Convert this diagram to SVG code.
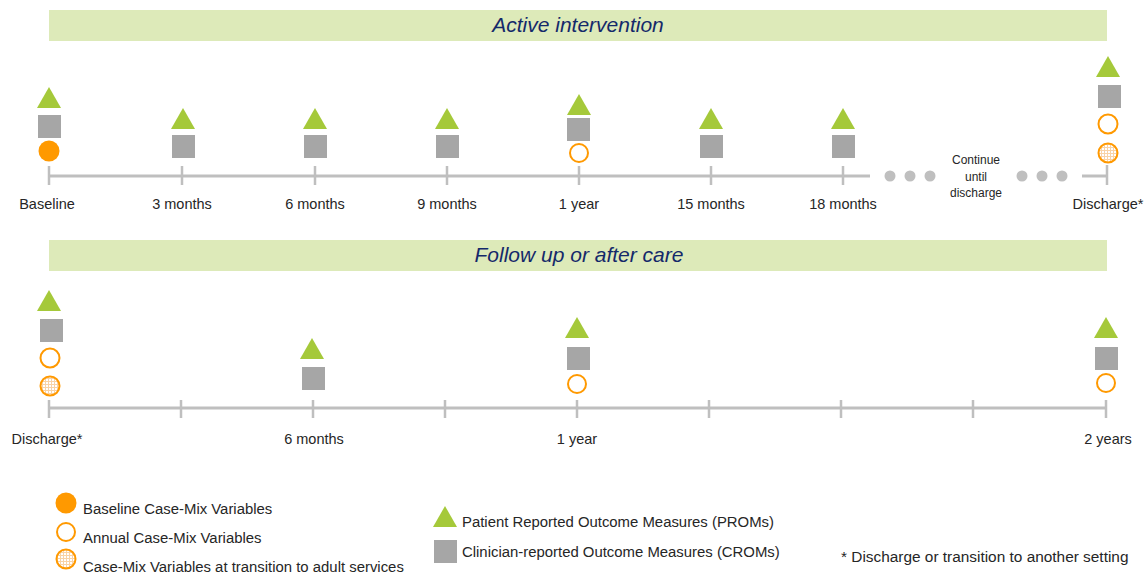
<svg xmlns="http://www.w3.org/2000/svg" width="1148" height="576" viewBox="0 0 1148 576">
<style>
  .bar { fill: #DDEAB9; }
  .title { font-family: "Liberation Sans", Arial, sans-serif; font-style: italic; font-size: 21px; fill: #14296A; text-anchor: middle; }
  .lbl { font-family: "Liberation Sans", Arial, sans-serif; font-size: 14.5px; fill: #262626; text-anchor: middle; }
  .small { font-family: "Liberation Sans", Arial, sans-serif; font-size: 12px; fill: #262626; text-anchor: middle; }
  .leg { font-family: "Liberation Sans", Arial, sans-serif; font-size: 14.9px; fill: #262626; }
  .axis { stroke: #BFBFBF; stroke-width: 3; fill: none; }
  .tick { stroke: #BFBFBF; stroke-width: 2.5; }
  .dot { fill: #BFBFBF; }
  .tri { fill: #A5C93A; }
  .sq { fill: #A6A6A6; }
  .base { fill: #FF9900; }
  .annual { fill: #FFFFFF; stroke: #FF9900; stroke-width: 2; }
  .trans { fill: url(#grid); stroke: #FF9900; stroke-width: 2; }
</style>
<defs>
  <pattern id="grid" width="3" height="3" patternUnits="userSpaceOnUse">
    <rect width="3" height="3" fill="#FFFFFF"/>
    <path d="M0,0.5 H3 M0.5,0 V3" stroke="#F9D3A6" stroke-width="1"/>
  </pattern>
  <path id="tri" d="M-12,21 L0,0 L12,21 Z"/>
  <rect id="sq" x="-11.5" y="0" width="23" height="23"/>
</defs>

<g id="header-active">
  <rect class="bar" x="49" y="10" width="1058" height="31"/>
  <text class="title" x="578" y="32">Active intervention</text>
</g>
<g id="header-follow">
  <rect class="bar" x="49" y="240" width="1058" height="31"/>
  <text class="title" x="579" y="262">Follow up or after care</text>
</g>

<g id="connectors">
  <line class="axis" x1="49" y1="176" x2="870" y2="176"/>
  <line class="axis" x1="1082" y1="176" x2="1107" y2="176"/>
  <g class="tick">
    <line x1="49" y1="166" x2="49" y2="185"/>
    <line x1="182" y1="166" x2="182" y2="185"/>
    <line x1="315" y1="166" x2="315" y2="185"/>
    <line x1="447" y1="166" x2="447" y2="185"/>
    <line x1="579" y1="166" x2="579" y2="185"/>
    <line x1="711" y1="166" x2="711" y2="185"/>
    <line x1="843" y1="166" x2="843" y2="185"/>
    <line x1="1107" y1="165" x2="1107" y2="185"/>
  </g>
  <circle class="dot" cx="890" cy="176" r="5.5"/>
  <circle class="dot" cx="910" cy="176" r="5.5"/>
  <circle class="dot" cx="930" cy="176" r="5.5"/>
  <circle class="dot" cx="1022" cy="176" r="5.5"/>
  <circle class="dot" cx="1042" cy="176" r="5.5"/>
  <circle class="dot" cx="1062" cy="176" r="5.5"/>

  <line class="axis" x1="49" y1="408" x2="1106" y2="408"/>
  <g class="tick">
    <line x1="49" y1="400" x2="49" y2="418"/>
    <line x1="181" y1="400" x2="181" y2="418"/>
    <line x1="313" y1="400" x2="313" y2="418"/>
    <line x1="445" y1="400" x2="445" y2="418"/>
    <line x1="577" y1="400" x2="577" y2="418"/>
    <line x1="709" y1="400" x2="709" y2="418"/>
    <line x1="841" y1="400" x2="841" y2="418"/>
    <line x1="973" y1="400" x2="973" y2="418"/>
    <line x1="1106" y1="400" x2="1106" y2="418"/>
  </g>
</g>

<g id="top-baseline">
  <use href="#tri" class="tri" x="49" y="87"/>
  <use href="#sq" class="sq" x="49.5" y="115"/>
  <circle class="base" cx="49" cy="151" r="10.5"/>
  <text class="lbl" x="47" y="209">Baseline</text>
</g>
<g id="top-3m">
  <use href="#tri" class="tri" x="183" y="108"/>
  <use href="#sq" class="sq" x="183.5" y="135"/>
  <text class="lbl" x="182" y="209">3 months</text>
</g>
<g id="top-6m">
  <use href="#tri" class="tri" x="315" y="108"/>
  <use href="#sq" class="sq" x="315.5" y="135"/>
  <text class="lbl" x="315" y="209">6 months</text>
</g>
<g id="top-9m">
  <use href="#tri" class="tri" x="447" y="108"/>
  <use href="#sq" class="sq" x="447.5" y="135"/>
  <text class="lbl" x="447" y="209">9 months</text>
</g>
<g id="top-1y">
  <use href="#tri" class="tri" x="579" y="94"/>
  <use href="#sq" class="sq" x="578.5" y="118"/>
  <circle class="annual" cx="579" cy="153" r="9"/>
  <text class="lbl" x="579" y="209">1 year</text>
</g>
<g id="top-15m">
  <use href="#tri" class="tri" x="711" y="108"/>
  <use href="#sq" class="sq" x="711.5" y="135"/>
  <text class="lbl" x="711" y="209">15 months</text>
</g>
<g id="top-18m">
  <use href="#tri" class="tri" x="843" y="108"/>
  <use href="#sq" class="sq" x="843.5" y="135"/>
  <text class="lbl" x="843" y="209">18 months</text>
</g>
<g id="top-continue">
  <text class="small" x="976" y="164">Continue</text>
  <text class="small" x="976" y="181">until</text>
  <text class="small" x="976" y="197">discharge</text>
</g>
<g id="top-discharge">
  <use href="#tri" class="tri" x="1108" y="56"/>
  <use href="#sq" class="sq" x="1109.5" y="85"/>
  <circle class="annual" cx="1108" cy="124" r="9.5"/>
  <circle class="trans" cx="1108" cy="153" r="9.5"/>
  <text class="lbl" x="1108" y="209">Discharge*</text>
</g>

<g id="bottom-discharge">
  <use href="#tri" class="tri" x="49" y="290"/>
  <use href="#sq" class="sq" x="51.5" y="319"/>
  <circle class="annual" cx="50" cy="358" r="9.5"/>
  <circle class="trans" cx="50" cy="386" r="9.5"/>
  <text class="lbl" x="47" y="444">Discharge*</text>
</g>
<g id="bottom-6m">
  <use href="#tri" class="tri" x="312" y="338"/>
  <use href="#sq" class="sq" x="313.5" y="367"/>
  <text class="lbl" x="314" y="444">6 months</text>
</g>
<g id="bottom-1y">
  <use href="#tri" class="tri" x="577" y="317"/>
  <use href="#sq" class="sq" x="578.5" y="347"/>
  <circle class="annual" cx="577" cy="384" r="9"/>
  <text class="lbl" x="577" y="444">1 year</text>
</g>
<g id="bottom-2y">
  <use href="#tri" class="tri" x="1106" y="317"/>
  <use href="#sq" class="sq" x="1106.5" y="347"/>
  <circle class="annual" cx="1106" cy="383" r="9"/>
  <text class="lbl" x="1108" y="444">2 years</text>
</g>

<g id="legend">
  <circle class="base" cx="66" cy="503" r="10.5"/>
  <text class="leg" x="83" y="514">Baseline Case-Mix Variables</text>
  <circle class="annual" cx="66" cy="532" r="9"/>
  <text class="leg" x="83" y="543">Annual Case-Mix Variables</text>
  <circle class="trans" cx="66" cy="559" r="9.5"/>
  <text class="leg" x="83" y="572">Case-Mix Variables at transition to adult services</text>
  <use href="#tri" class="tri" x="445" y="506"/>
  <text class="leg" x="462" y="527">Patient Reported Outcome Measures (PROMs)</text>
  <use href="#sq" class="sq" x="445.5" y="540"/>
  <text class="leg" x="462" y="557">Clinician-reported Outcome Measures (CROMs)</text>
  <text class="leg" x="841" y="562" style="font-size:15.4px">* Discharge or transition to another setting</text>
</g>
</svg>
